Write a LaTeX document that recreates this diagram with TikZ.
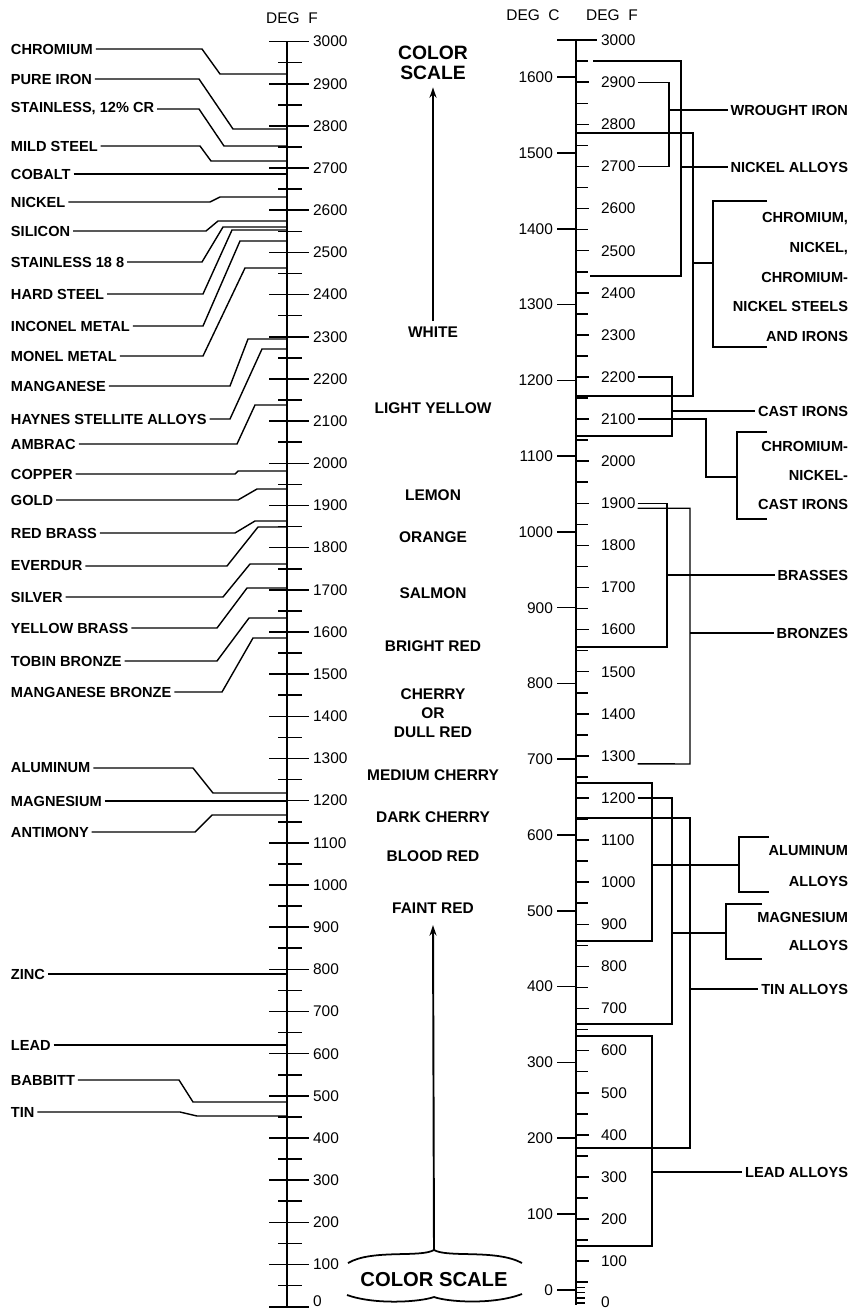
\documentclass[tikz,border=0pt]{standalone}
\usepackage{fontspec}
\setmainfont{Liberation Sans}
\usetikzlibrary{arrows.meta}

\tikzset{
	metal/.style={anchor=west, inner sep=1.5pt, font=\bfseries\fontsize{8.3}{10}\selectfont},
	alloy/.style={anchor=east, inner sep=1.5pt, font=\bfseries\fontsize{8.3}{10}\selectfont},
	deg/.style={inner sep=1pt, font=\fontsize{8.8}{10}\selectfont},
	glow/.style={inner sep=0pt, align=center, font=\bfseries\fontsize{8.8}{10.8}\selectfont},
	axis/.style={line width=1.4pt},
	tick/.style={line width=0.9pt},
	lead/.style={line width=0.8pt},
	rise/.style={line width=1.1pt, -{Stealth[length=6pt,width=4pt]}}
}

\begin{document}
\begin{tikzpicture}[x=0.02cm, y=-0.02cm]
	\useasboundingbox (0,0) rectangle (857,1312);

	% left scale, deg F
	\node[deg] (degfl) at (292,18) {DEG\ \ F};
	\draw[axis] (287,41.7) -- (287,1306.7);
	\foreach \tf in {0,100,...,3000}{
		\pgfmathsetmacro\yy{1306.7-0.4217*\tf}
		\pgfmathsetmacro\ly{min(\yy,1301)}
		\draw[tick] (269,\yy) -- (309,\yy);
		\node[deg, anchor=west] (L\tf) at (311,\ly) {\tf};
	}
	\foreach \tf in {50,150,...,2950}{
		\pgfmathsetmacro\yy{1306.7-0.4217*\tf}
		\draw[tick] (278,\yy) -- (302,\yy);
	}

	% metals
	\node[metal] (cr) at (8,49) {CHROMIUM};
	\draw[lead] (cr.east) -- (202,49) -- (220,74) -- (287,74);
	\node[metal] (fe) at (8,79) {PURE IRON};
	\draw[lead] (fe.east) -- (199,79) -- (233,129) -- (287,129);
	\node[metal] (ss12) at (8,109) {STAINLESS, 12\% CR};
	\draw[lead] (ss12.east) -- (199,109) -- (224,146) -- (287,146);
	\node[metal] (mild) at (8,146) {MILD STEEL};
	\draw[lead] (mild.east) -- (200,146) -- (211,161) -- (287,161);
	\node[metal] (co) at (8,174) {COBALT};
	\draw[lead] (co.east) -- (287,174);
	\node[metal] (ni) at (8,202) {NICKEL};
	\draw[lead] (ni.east) -- (210,202) -- (220,197) -- (287,197);
	\node[metal] (si) at (8,231) {SILICON};
	\draw[lead] (si.east) -- (206,231) -- (218,221) -- (287,221);
	\node[metal] (ss18) at (8,262) {STAINLESS 18 8};
	\draw[lead] (ss18.east) -- (202,262) -- (223,227) -- (287,227);
	\node[metal] (hard) at (8,294) {HARD STEEL};
	\draw[lead] (hard.east) -- (203,294) -- (232,230) -- (287,230);
	\node[metal] (inco) at (8,326) {INCONEL METAL};
	\draw[lead] (inco.east) -- (203,326) -- (240,241) -- (287,241);
	\node[metal] (mone) at (8,356) {MONEL METAL};
	\draw[lead] (mone.east) -- (203,356) -- (245,268) -- (287,268);
	\node[metal] (mn) at (8,386) {MANGANESE};
	\draw[lead] (mn.east) -- (230,386) -- (248,339) -- (287,339);
	\node[metal] (hay) at (8,419) {HAYNES STELLITE ALLOYS};
	\draw[lead] (hay.east) -- (230,419) -- (262,349) -- (287,349);
	\node[metal] (amb) at (8,444) {AMBRAC};
	\draw[lead] (amb.east) -- (237,444) -- (255,405) -- (287,405);
	\node[metal] (cu) at (8,474) {COPPER};
	\draw[lead] (cu.east) -- (235,474) -- (238,471) -- (287,471);
	\node[metal] (au) at (8,500) {GOLD};
	\draw[lead] (au.east) -- (238,500) -- (257,489) -- (287,489);
	\node[metal] (rbr) at (8,533) {RED BRASS};
	\draw[lead] (rbr.east) -- (235,533) -- (255,521) -- (287,521);
	\node[metal] (ever) at (8,566) {EVERDUR};
	\draw[lead] (ever.east) -- (227,566) -- (258,527) -- (287,527);
	\node[metal] (ag) at (8,597) {SILVER};
	\draw[lead] (ag.east) -- (223,597) -- (250,564) -- (287,564);
	\node[metal] (ybr) at (8,628) {YELLOW BRASS};
	\draw[lead] (ybr.east) -- (217,628) -- (247,588) -- (287,588);
	\node[metal] (tob) at (8,661) {TOBIN BRONZE};
	\draw[lead] (tob.east) -- (217,661) -- (249,618) -- (287,618);
	\node[metal] (mnbr) at (8,692) {MANGANESE BRONZE};
	\draw[lead] (mnbr.east) -- (222,692) -- (253,638) -- (287,638);
	\node[metal] (al) at (8,768) {ALUMINUM};
	\draw[lead] (al.east) -- (193,768) -- (213,793) -- (287,793);
	\node[metal] (mg) at (8,801) {MAGNESIUM};
	\draw[lead] (mg.east) -- (287,801);
	\node[metal] (sb) at (8,832) {ANTIMONY};
	\draw[lead] (sb.east) -- (195,832) -- (212,815) -- (287,815);
	\node[metal] (zn) at (8,974) {ZINC};
	\draw[lead] (zn.east) -- (287,974);
	\node[metal] (pb) at (8,1045) {LEAD};
	\draw[lead] (pb.east) -- (287,1045);
	\node[metal] (bab) at (8,1080) {BABBITT};
	\draw[lead] (bab.east) -- (179,1080) -- (193,1102) -- (287,1102);
	\node[metal] (sn) at (8,1112) {TIN};
	\draw[lead] (sn.east) -- (180,1112) -- (197,1116) -- (287,1116);

	% color scale
	\node[glow, font=\bfseries\fontsize{11}{11.5}\selectfont] (cstop) at (433,63) {COLOR\\SCALE};
	\node[glow] (white) at (433,332) {WHITE};
	\node[glow] (lyel) at (433,408) {LIGHT YELLOW};
	\node[glow] (lemon) at (433,495) {LEMON};
	\node[glow] (orange) at (433,537) {ORANGE};
	\node[glow] (salmon) at (433,593) {SALMON};
	\node[glow] (bright) at (433,646) {BRIGHT RED};
	\node[glow] (cherry) at (433,713) {CHERRY\\OR\\DULL RED};
	\node[glow] (medch) at (433,775) {MEDIUM CHERRY};
	\node[glow] (darkch) at (433,817) {DARK CHERRY};
	\node[glow] (blood) at (433,856) {BLOOD RED};
	\node[glow] (faint) at (433,908) {FAINT RED};
	\node[glow, font=\bfseries\fontsize{11.5}{12}\selectfont] (csbot) at (434,1280) {COLOR SCALE};
	\draw[rise] ([yshift=3pt]white.north) -- ([yshift=-4pt]cstop.south);
	\draw[line width=1pt] (348,1263) .. controls (372,1249) and (420,1258) .. (434,1250)
		.. controls (448,1258) and (496,1249) .. (522,1263);
	\draw[line width=1pt] (347,1295) .. controls (375,1305) and (420,1302) .. (434,1297)
		.. controls (448,1302) and (493,1305) .. (522,1294);
	\coordinate (brtip) at (434,1250);
	\draw[rise] (brtip) -- ([yshift=-6.5pt]faint.south);

	% right scale, deg C and deg F
	\node[deg] (degc) at (533,15) {DEG\ \ C};
	\node[deg] (degfr) at (612,15) {DEG\ \ F};
	\draw[axis] (576,40.2) -- (576,1305);
	\draw[tick] (557,40.2) -- (597,40.2);
	\node[deg, anchor=west] (R3000) at (599,40.2) {3000};
	\foreach \tf in {100,200,...,2900}{
		\pgfmathsetmacro\yy{1303.2-0.421*\tf}
		\draw[tick] (576,\yy) -- (589,\yy);
		\node[deg, anchor=west] (R\tf) at (599,\yy) {\tf};
	}
	\foreach \tf in {50,150,...,2950}{
		\pgfmathsetmacro\yy{1303.2-0.421*\tf}
		\draw[tick] (576,\yy) -- (588,\yy);
	}
	\foreach \tf in {0,12.5,25,37.5}{
		\pgfmathsetmacro\yy{1303.2-0.421*\tf}
		\draw[tick] (576,\yy) -- (585,\yy);
	}
	\node[deg, anchor=west] (R0) at (599,1302) {0};
	\foreach \tc in {0,100,...,1600}{
		\pgfmathsetmacro\yy{1303.2-0.421*(1.8*\tc+32)}
		\draw[tick] (557,\yy) -- (576,\yy);
		\node[deg, anchor=east] (C\tc) at (555,\yy) {\tc};
	}

	% nickel alloys
	\draw[lead] (593,61) -| (681,276) -- (590,276);
	\node[alloy] (nial) at (851,167) {NICKEL ALLOYS};
	\draw[lead] (681,167) -- (nial.west);
	% wrought iron
	\draw[lead] (R2900.east) -| (669,140) |- (R2700.east);
	\node[alloy] (wiron) at (851,110) {WROUGHT IRON};
	\draw[lead] (669,110) -- (wiron.west);
	% chromium nickel steels
	\draw[lead] (576,133) -| (693,396) -- (576,396);
	\draw[lead] (693,263) -- (713,263);
	\draw[lead] (767,201) -- (713,201) -- (713,347) -- (767,347);
	\node[alloy, align=right, font=\bfseries\fontsize{8.3}{17}\selectfont] (crni) at (851,277)
		{CHROMIUM,\\NICKEL,\\CHROMIUM-\\NICKEL STEELS\\AND IRONS};
	% cast irons
	\draw[lead] (R2200.east) -| (672,436) -- (576,436);
	\node[alloy] (cast) at (851,411) {CAST IRONS};
	\draw[lead] (672,411) -- (cast.west);
	% chromium nickel cast irons
	\draw[lead] (R2100.east) -| (706,477) -- (737,477);
	\draw[lead] (767,432) -- (737,432) -- (737,519) -- (767,519);
	\node[alloy, align=right, font=\bfseries\fontsize{8.3}{16.7}\selectfont] (crci) at (851,475.5)
		{CHROMIUM-\\NICKEL-\\CAST IRONS};
	% brasses
	\draw[lead] (R1900.east) -| (667,647) -- (576,647);
	\node[alloy] (brass) at (851,575) {BRASSES};
	\draw[lead] (667,575) -- (brass.west);
	% bronzes
	\draw[lead] ([yshift=-2.8pt]R1900.east) -| (690,764) -- ([yshift=-4.5pt]R1300.east);
	\node[alloy] (bronze) at (851,633) {BRONZES};
	\draw[lead] (690,633) -- (bronze.west);
	% aluminum alloys
	\draw[lead] (576,783) -| (652,941) -- (576,941);
	\draw[lead] (652,865) -- (739,865);
	\draw[lead] (769,837) -- (739,837) -- (739,892) -- (769,892);
	\node[alloy, align=right, font=\bfseries\fontsize{8.3}{18}\selectfont] (alal) at (851,866) {ALUMINUM\\ALLOYS};
	% magnesium alloys
	\draw[lead] (R1200.east) -| (672,1024) -- (576,1024);
	\draw[lead] (672,933) -- (726,933);
	\draw[lead] (762,904) -- (726,904) -- (726,959) -- (762,959);
	\node[alloy, align=right, font=\bfseries\fontsize{8.3}{16.4}\selectfont] (mgal) at (851,931.5) {MAGNESIUM\\ALLOYS};
	% tin alloys
	\draw[lead] (576,818) -| (690,1148) -- (576,1148);
	\node[alloy] (snal) at (851,989) {TIN ALLOYS};
	\draw[lead] (690,989) -- (snal.west);
	% lead alloys
	\draw[lead] (576,1036) -| (652,1246) -- (576,1246);
	\node[alloy] (pbal) at (851,1172) {LEAD ALLOYS};
	\draw[lead] (652,1172) -- (pbal.west);

\end{tikzpicture}
\end{document}
